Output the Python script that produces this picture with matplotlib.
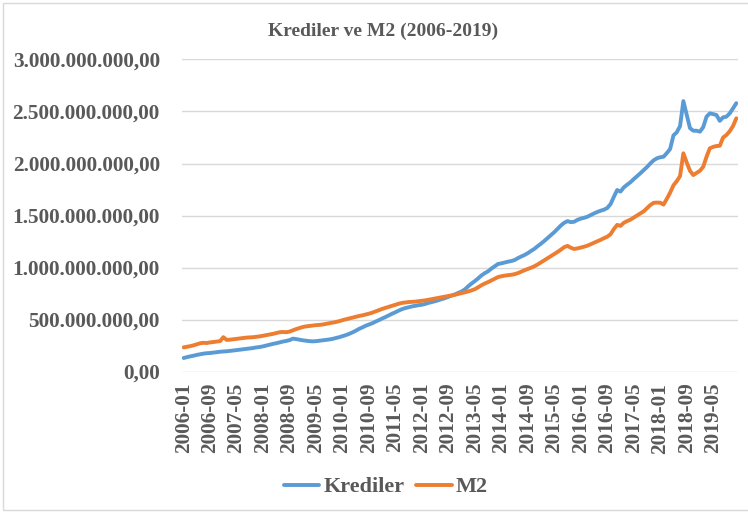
import pandas as pd
import matplotlib.pyplot as plt
from matplotlib.ticker import FuncFormatter
from matplotlib.patches import Rectangle

# monthly values, in millions
krediler = [
    130, 138, 146, 152, 160, 166, 172, 176, 178, 182, 186, 190,        # 2006
    192, 195, 198, 202, 206, 210, 214, 218, 222, 226, 232, 236,        # 2007
    242, 250, 258, 266, 272, 280, 288, 294, 302, 316, 312, 306,        # 2008
    300, 296, 292, 290, 292, 296, 300, 304, 308, 314, 322, 330,        # 2009
    340, 350, 362, 376, 392, 410, 424, 440, 452, 464, 480, 494,        # 2010
    510, 524, 540, 556, 570, 586, 600, 610, 618, 626, 632, 638,        # 2011
    642, 650, 660, 668, 676, 686, 696, 706, 718, 730, 742, 756,        # 2012
    770, 790, 820, 846, 870, 896, 924, 946, 964, 990, 1012, 1034,      # 2013
    1040, 1048, 1056, 1062, 1072, 1090, 1106, 1120, 1138, 1160, 1180, 1206,  # 2014
    1230, 1256, 1284, 1312, 1340, 1372, 1404, 1430, 1446, 1436, 1440, 1458,  # 2015
    1470, 1478, 1488, 1504, 1520, 1534, 1546, 1556, 1572, 1610, 1680, 1745,  # 2016
    1730, 1770, 1796, 1820, 1850, 1878, 1906, 1936, 1966, 2000, 2030, 2050,  # 2017
    2060, 2065, 2100, 2140, 2270, 2300, 2360, 2600, 2470, 2340, 2315, 2315,  # 2018
    2306, 2350, 2450, 2482, 2475, 2466, 2410, 2444, 2450, 2482, 2530, 2580,  # 2019
]
m2 = [
    232, 238, 244, 252, 262, 272, 276, 274, 280, 284, 288, 292,
    330, 304, 306, 310, 314, 318, 322, 326, 328, 330, 334, 338,
    344, 350, 356, 362, 370, 378, 380, 378, 384, 396, 408, 418,
    428, 434, 438, 442, 446, 448, 452, 458, 464, 470, 476, 484,
    494, 502, 510, 518, 526, 534, 540, 548, 556, 566, 578, 590,
    602, 612, 622, 632, 642, 652, 660, 664, 668, 670, 672, 676,
    680, 684, 690, 696, 702, 708, 714, 720, 726, 732, 738, 746,
    754, 762, 770, 780, 792, 810, 830, 846, 860, 876, 892, 908,
    916, 922, 926, 930, 936, 946, 960, 974, 986, 998, 1012, 1030,
    1050, 1070, 1090, 1110, 1130, 1150, 1172, 1196, 1208, 1190, 1178, 1184,
    1192, 1200, 1210, 1224, 1238, 1252, 1266, 1282, 1296, 1320, 1370, 1410,
    1400, 1430, 1446, 1460, 1480, 1500, 1520, 1540, 1570, 1600, 1622, 1624,
    1623, 1605, 1660, 1720, 1790, 1830, 1880, 2098, 2010, 1930, 1889, 1910,
    1930, 1969, 2065, 2146, 2160, 2168, 2170, 2250, 2274, 2310, 2360, 2435,
]
months = pd.period_range('2006-01', periods=len(krediler), freq='M').strftime('%Y-%m').tolist()

text_color = '#595959'
plt.rcParams['font.family'] = ['Liberation Serif', 'DejaVu Serif']
plt.rcParams['font.weight'] = 'bold'

fig = plt.figure(figsize=(7.48, 5.16), dpi=100)
ax = fig.add_axes([0.2433, 0.28, 0.7433, 0.6047])

x = range(len(months))
ax.plot(x, [v * 1e6 for v in krediler], color='#5B9BD5', lw=2.8, label='Krediler', solid_capstyle='round')
ax.plot(x, [v * 1e6 for v in m2], color='#ED7D31', lw=2.8, label='M2', solid_capstyle='round')

ax.set_xlim(-0.5, len(months) - 0.5)
ax.set_ylim(0, 3e9)
ax.set_yticks([i * 5e8 for i in range(7)])
ax.yaxis.set_major_formatter(FuncFormatter(
    lambda v, p: f'{v:,.2f}'.replace(',', ' ').replace('.', ',').replace(' ', '.')))
ax.set_xticks(range(0, len(months), 8))
ax.set_xticklabels(months[::8], rotation=90)

ax.grid(axis='y', color='#d9d9d9', lw=1)
ax.set_axisbelow(True)
for s in ax.spines.values():
    s.set_visible(False)
ax.tick_params(length=0, labelsize=15.3, colors=text_color)
ax.tick_params(axis='y', pad=16)
ax.tick_params(axis='x', pad=8)

fig.text(0.5126, 0.94, 'Krediler ve M2 (2006-2019)', ha='center', va='center',
         fontsize=14, color=text_color, fontweight='bold')

fig.legend(loc='center', bbox_to_anchor=(0.516, 0.056), ncol=2, frameon=False,
           fontsize=16, handlelength=1.6, columnspacing=0.5, handletextpad=0.2,
           labelcolor=text_color)

fig.patches.append(Rectangle((0.004, 0.012), 1.0, 0.982, transform=fig.transFigure,
                             fill=False, edgecolor='#d9d9d9', lw=1))

fig.savefig('out.png', dpi=100)
